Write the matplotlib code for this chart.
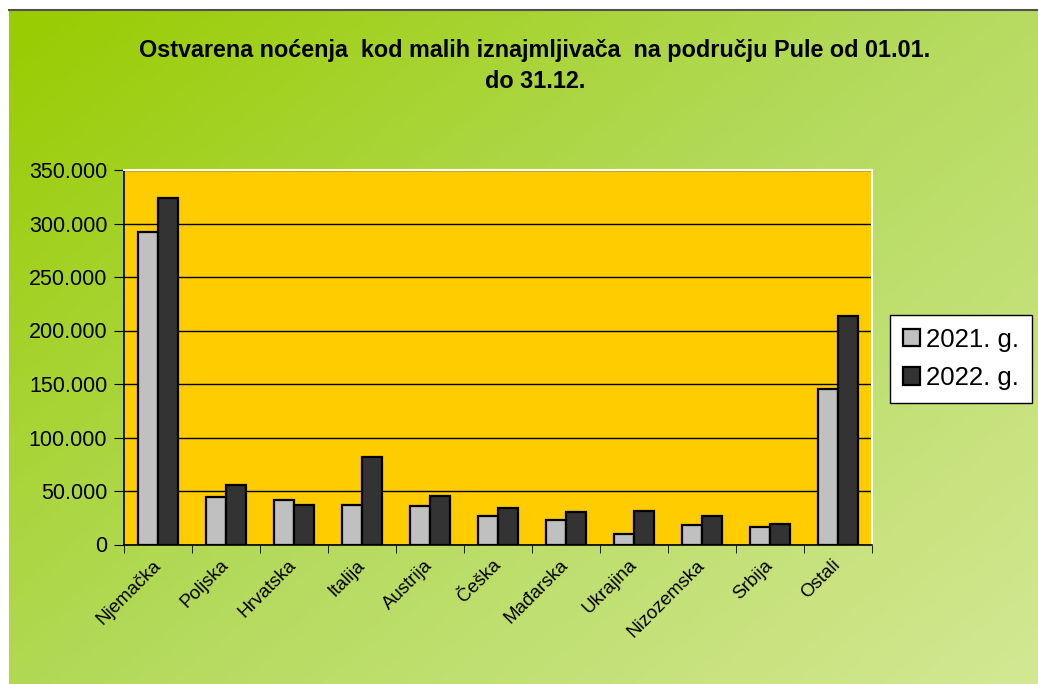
import numpy as np
import matplotlib
matplotlib.use('Agg')
import matplotlib.pyplot as plt
from matplotlib.colors import LinearSegmentedColormap
from matplotlib.ticker import FuncFormatter, MultipleLocator

plt.rcParams['font.family'] = ['Liberation Sans', 'DejaVu Sans']

countries = ['Njemačka', 'Poljska', 'Hrvatska', 'Italija', 'Austrija', 'Češka',
             'Mađarska', 'Ukrajina', 'Nizozemska', 'Srbija', 'Ostali']
y2021 = [292000, 44000, 42000, 37000, 36000, 27000, 23000, 10000, 18000, 16500, 145500]
y2022 = [324000, 56000, 37000, 82000, 45000, 34000, 30000, 31000, 27000, 19000, 214000]
series = ['2021. g.', '2022. g.']
title = 'Ostvarena noćenja  kod malih iznajmljivača  na području Pule od 01.01.\ndo 31.12.'

W, H = 1038, 684
fig = plt.figure(figsize=(W / 100, H / 100), dpi=100, facecolor='white')

# diagonal green gradient background
bg = fig.add_axes([9 / W, 0, 1 - 9 / W, (H - 10) / H])
bg.set_axis_off()
gx, gy = np.meshgrid(np.linspace(0, 1, 400), np.linspace(0, 1, 300))
grad = 0.55 * gx + 0.45 * gy
cmap = LinearSegmentedColormap.from_list('g', ['#99cc00', '#b4da5c', '#d3e893'])
bg.imshow(grad, cmap=cmap, aspect='auto', extent=[0, 1, 0, 1], origin='upper')
bg.set_xlim(0, 1)
bg.set_ylim(0, 1)
fig.add_artist(plt.Line2D([9 / W, 1], [(H - 9.5) / H, (H - 9.5) / H],
                          color='#505050', lw=1.5, transform=fig.transFigure))

ax = fig.add_axes([124 / W, (H - 544.5) / H, (872 - 124) / W, (544.5 - 170) / H])
ax.set_facecolor('#ffcc00')

x = np.arange(len(countries))
bw = 0.287
ax.bar(x - bw / 2, y2021, bw, color='#c0c0c0', edgecolor='black', lw=1.6,
       label=series[0], zorder=3)
ax.bar(x + bw / 2, y2022, bw, color='#333333', edgecolor='black', lw=1.6,
       label=series[1], zorder=3)

ax.set_xlim(-0.5, len(countries) - 0.5)
ax.set_ylim(0, 350000)
ax.yaxis.set_major_locator(MultipleLocator(50000))
ax.yaxis.set_major_formatter(FuncFormatter(lambda v, p: f'{int(v):,}'.replace(',', '.')))
ax.grid(axis='y', color='black', lw=1, zorder=1)

ax.set_xticks(x)
ax.set_xticklabels(countries, rotation=45, ha='right', va='center',
                   rotation_mode='anchor', fontsize=13.5)
ax.set_xticks(np.arange(-0.5, len(countries)), minor=True)
ax.tick_params(axis='x', which='major', length=0, pad=13)
ax.tick_params(axis='x', which='minor', length=6, direction='out', color='black')
ax.tick_params(axis='y', length=7, direction='out', labelsize=15.5, pad=5)

for s in ['top', 'right']:
    ax.spines[s].set_color('white')
    ax.spines[s].set_linewidth(1.5)
for s in ['left', 'bottom']:
    ax.spines[s].set_color('black')
    ax.spines[s].set_linewidth(1.2)

fig.text(535 / W, 1 - 66 / H, title, ha='center', va='center', fontsize=16.8,
         fontweight='bold', linespacing=1.45)

leg = ax.legend(loc='upper left', bbox_to_anchor=(890 / W, 1 - 315 / H),
                bbox_transform=fig.transFigure, fontsize=18.5, frameon=True,
                fancybox=False, edgecolor='black', framealpha=1,
                handlelength=0.65, handleheight=0.65, handletextpad=0.25,
                borderpad=0.5, labelspacing=0.55, borderaxespad=0)
leg.get_frame().set_linewidth(1)

fig.savefig('out.png', dpi=100)
